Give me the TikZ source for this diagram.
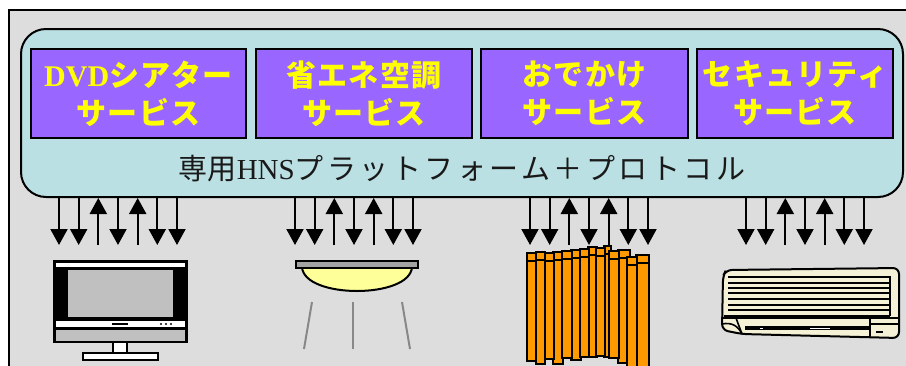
\documentclass[tikz,border=0pt]{standalone}
\usepackage{fontspec}
\usetikzlibrary{arrows.meta}
\setmainfont{Liberation Serif}
\newfontfamily\jp{Noto Sans CJK JP}
\newfontfamily\jpsp{Noto Sans CJK JP}[LetterSpace=12]
\newfontfamily\jpbd{Noto Sans CJK JP Bold}[LetterSpace=4]

\definecolor{framegray}{HTML}{DDDDDD}
\definecolor{platcyan}{HTML}{BBE0E3}
\definecolor{svcpurple}{HTML}{9966FF}
\definecolor{svcyellow}{HTML}{FFFF00}
\definecolor{curtain}{HTML}{FF9900}
\definecolor{lampyellow}{HTML}{FFFF99}
\definecolor{screengray}{HTML}{C0C0C0}
\definecolor{raygray}{HTML}{888888}
\definecolor{aircream}{HTML}{F4F1D6}

\tikzset{
  svcbox/.style={draw=black, line width=2pt, fill=svcpurple, text=svcyellow,
    align=center, inner sep=0pt, minimum height=89pt,
    font={\fontsize{30}{38}\selectfont\jpbd\bfseries}},
  platform/.style={draw=black, line width=2pt, fill=platcyan, rounded corners=25pt,
    minimum width=882pt, minimum height=168pt, inner sep=0pt},
  sig/.style={line width=2pt, -{Triangle[width=17pt,length=16pt]}},
  outl/.style={draw=black, line width=2pt},
  ray/.style={draw=raygray, line width=2pt},
  strip/.style={draw=black, line width=2pt, fill=curtain},
}

\begin{document}
\begin{tikzpicture}[x=1pt, y=-1pt]
\useasboundingbox (0,0) rectangle (906,365);

% outer frame
\fill[framegray] (9,10) rectangle (910,370);
\draw[line width=2pt] (9,370) -- (9,10) -- (910,10);

% platform and services
\node[platform] (plat) at (462,113) {};
\node[svcbox, minimum width=215pt] (s1) at (138.5,93.5) {{\rmfamily DVD}シアター\\サービス};
\node[svcbox, minimum width=216pt] (s2) at (364,93.5) {省エネ空調\\サービス};
\node[svcbox, minimum width=207pt] (s3) at (584.5,93.5) {おでかけ\\サービス};
\node[svcbox, minimum width=196pt] (s4) at (795,93.5) {セキュリティ\\サービス};
\node[font=\fontsize{29}{34}\selectfont, text=black!90] (ptxt) at (462,169)
  {{\jp 専用}HNS{\jpsp プラットフォーム＋プロトコル}};

% signal arrows between the platform and each device
\foreach \g/\cx in {a/118, b/354, c/589, d/805}{
  \foreach \dx [count=\i] in {-59, -39.3, -19.7, 0, 19.7, 39.3, 59}
    \coordinate (\g\i) at (\cx+\dx,245);
  \draw[sig] (plat.south -| \g1) -- (\g1);
  \draw[sig] (plat.south -| \g2) -- (\g2);
  \draw[sig] (\g3) -- (plat.south -| \g3);
  \draw[sig] (plat.south -| \g4) -- (\g4);
  \draw[sig] (\g5) -- (plat.south -| \g5);
  \draw[sig] (plat.south -| \g6) -- (\g6);
  \draw[sig] (plat.south -| \g7) -- (\g7);
}

% television
\draw[outl, fill=white] (83,353) rectangle (158,360);
\draw[outl, fill=white] (113,342) rectangle (127,353);
\fill[black] (53,260) rectangle (188,343);
\fill[white] (56,263) rectangle (185,267);
\fill[screengray] (68,270) rectangle (173,317);
\fill[white] (56,321) rectangle (185,327);
\fill[black] (112,322.8) rectangle (128,325.2);
\foreach \px in {161,166,171} \fill[black] (\px,324) circle (1.1pt);
\fill[screengray] (56,330) rectangle (185,341);

% ceiling lamp
\draw[outl, fill=lampyellow] (302,267) .. controls (304,299) and (410,299) .. (412,267) -- cycle;
\draw[outl, fill=screengray!85!black] (296,261) rectangle (418,268);
\draw[ray] (312,302) -- (304,349);
\draw[ray] (353,302) -- (353,349);
\draw[ray] (402,302) -- (410,349);

% curtain
\foreach \xa/\xb/\yt/\yb in {527/536/253/361, 553/563/252/364, 571/581/250/360,
    588/597/247/357, 604/611/246/357, 618/630/250/363, 636/649/255/372,
    536/545/252/364, 545/554/253/359, 562/572/251/358, 580/589/249/357,
    596/605/248/356, 609/619/251/358, 627/637/257/372}{
  \draw[strip] (\xa,\yt) rectangle (\xb,\yb);
  \draw[line width=2pt] (\xa,\yt+8) -- (\xb,\yt+8);
}

% air conditioner
\draw[outl, fill=aircream, rounded corners=6pt]
  (723,276) -- (726,270) -- (899,268) -- (899,338) -- (742,334) -- (722,330) -- cycle;
\foreach \ly in {277,283,288,293,299,305,310}
  \draw[line width=1.6pt] (728,\ly) -- (890,\ly);
\draw[line width=1.6pt] (890,276) -- (890,316);
\draw[line width=1.6pt] (724,316) -- (890,316);
\draw[line width=1.6pt] (722,318) -- (898,318);
\draw[line width=1.6pt] (722,324) .. controls (732,322) and (738,326) .. (742,334);
\draw[line width=1.6pt] (736,318) -- (742,334);
\fill[black] (745,326) rectangle (870,330);
\fill[white] (760,327.5) rectangle (763,328.5);
\fill[white] (810,327.5) rectangle (830,328.5);
\draw[line width=1.6pt] (870,318) -- (870,337);
\draw[line width=1.6pt] (870,324) -- (898,324);
\fill[black] (876,331) rectangle (883,333);
\end{tikzpicture}
\end{document}
